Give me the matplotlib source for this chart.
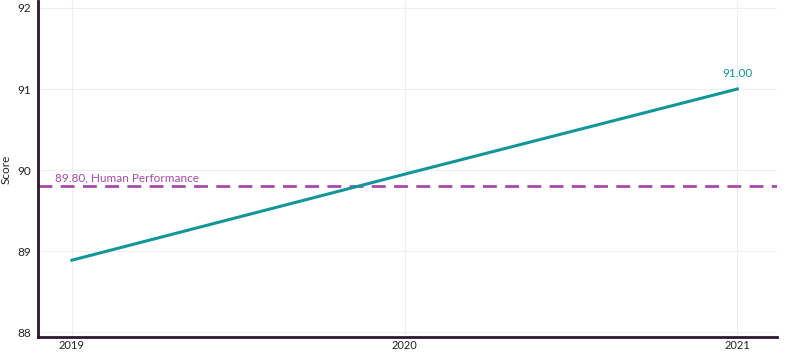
import matplotlib.pyplot as plt

years = [2019, 2020, 2021]
scores = [88.89, 89.95, 91.00]
human = 89.80
yticks = [88, 89, 90, 91, 92]

teal = '#13969a'
purple = '#a64aab'
dark = '#2a1730'

plt.rcParams['font.family'] = ['Lato', 'DejaVu Sans']

fig = plt.figure(figsize=(8, 3.55), dpi=100)
ax = fig.add_axes([0.0475, 0.05, 0.924, 0.946])

ax.plot(years, scores, color=teal, linewidth=2.2, zorder=3)
ax.axhline(human, color=purple, linewidth=2, linestyle=(0, (5, 3)), zorder=2)
ax.text(2019 - 0.05, human + 0.04, '89.80, Human Performance', color=purple,
        fontsize=8.5, ha='left', va='bottom')
ax.annotate('91.00', (years[-1], scores[-1]), xytext=(0, 7), textcoords='offset points',
            color=teal, fontsize=8.5, ha='center', va='bottom')

ax.set_xlim(2018.898, 2021.12)
ax.set_ylim(87.94, 92.08)
ax.set_xticks(years)
ax.set_xticklabels([str(y) for y in years])
ax.set_yticks(yticks)
ax.tick_params(axis='x', length=0, labelsize=8, colors='#222222', pad=2)
ax.tick_params(axis='y', length=0, labelsize=8.5, colors='#222222', pad=5)
ax.set_ylabel('Score', fontsize=8.5, color='#222222', labelpad=4)

ax.grid(True, color='#eeeeee', linewidth=0.8)
ax.set_axisbelow(True)
for s in ['top', 'right']:
    ax.spines[s].set_visible(False)
for s in ['left', 'bottom']:
    ax.spines[s].set_color(dark)
    ax.spines[s].set_linewidth(2)

fig.savefig('out.png', dpi=100)
